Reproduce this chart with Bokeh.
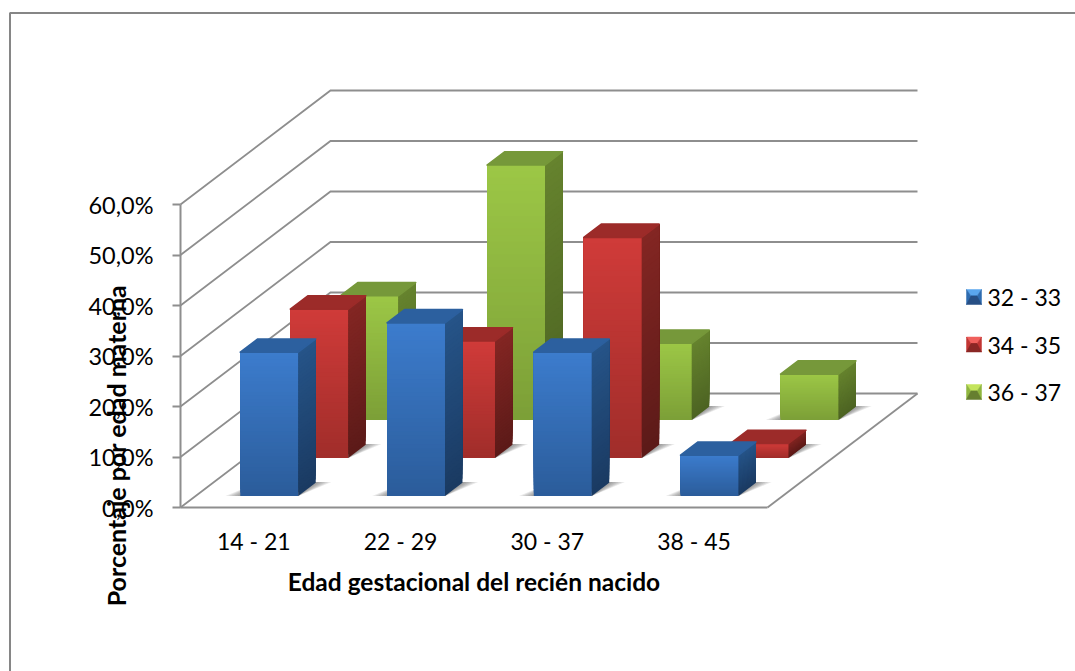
from bokeh.core.properties import value
from bokeh.embed import file_html
from bokeh.models import FixedTicker, Range1d
from bokeh.plotting import figure
from bokeh.resources import INLINE
import math

# Chart values: percentage per maternal age group and gestational age class
categories = ["14 - 21", "22 - 29", "30 - 37", "38 - 45"]
series_names = ["32 - 33", "34 - 35", "36 - 37"]
serie_32_33 = [28.5, 34.3, 28.5, 8.1]
serie_34_35 = [29.5, 23.2, 43.7, 2.9]
serie_36_37 = [24.6, 50.5, 15.2, 9.1]
value_ticks = [0, 10, 20, 30, 40, 50, 60]
value_tick_labels = ["0,0%", "10,0%", "20,0%", "30,0%", "40,0%", "50,0%", "60,0%"]
x_label = "Edad gestacional del recién nacido"
y_label = "Porcentaje por edad materna"

# (front top, front bottom, side top, side bottom, top face, legend light, legend mid, legend dark)
palette = [
    ("#3c7ccd", "#2b5c9a", "#265488", "#1a3a62", "#2c609f", "#5aa6ee", "#2f6cb0", "#274f85"),
    ("#d03b39", "#a02d2a", "#832623", "#5c1a18", "#9c2b29", "#f0605c", "#c23533", "#8a2725"),
    ("#9cc746", "#7c9f37", "#66832e", "#4c6322", "#76983a", "#c4e45c", "#8fb63f", "#667f30"),
]

WIDTH, HEIGHT = 1075, 671
ORIGIN_X, ORIGIN_Y = 180.0, 507.0      # pixel position of the front-left floor corner
CAT_PX = 146.75                        # pixels per category along the floor
PCT_PX = 5.05                          # pixels per percentage point
DEPTH_PX = (150.0, 114.0)              # floor depth vector in pixels
SLOTS = 3
DX = DEPTH_PX[0] / CAT_PX / SLOTS      # one depth slot, in category units
DY = DEPTH_PX[1] / PCT_PX / SLOTS      # one depth slot, in percent units
X_MAX, Y_TOP = 4.0, 60.0
GRID = "#8e8e8e"
STEPS = 40


def project(cat, depth, val):
    return cat + depth * DX, val + depth * DY


def from_px(px, py):
    return (px - ORIGIN_X) / CAT_PX, (ORIGIN_Y - py) / PCT_PX


def mix(a, b, t):
    ca = [int(a[i:i + 2], 16) for i in (1, 3, 5)]
    cb = [int(b[i:i + 2], 16) for i in (1, 3, 5)]
    return "#%02x%02x%02x" % tuple(round(x + (y - x) * t) for x, y in zip(ca, cb))


p = figure(
    width=WIDTH, height=HEIGHT, output_backend="svg", toolbar_location=None,
    x_range=Range1d(*[from_px(v, 0)[0] for v in (0, WIDTH)]),
    y_range=Range1d(from_px(0, HEIGHT)[1], from_px(0, 0)[1]),
    min_border=0, min_border_left=0, min_border_right=0, min_border_top=0, min_border_bottom=0,
    outline_line_color=None, background_fill_color="white", border_fill_color="white",
)
p.grid.visible = False

# Outer chart-area border: only its top and left edges fall inside the page
bx, by = zip(*[from_px(9.5, HEIGHT), from_px(9.5, 12.5), from_px(WIDTH, 12.5)])
p.line(list(bx), list(by), line_color="#868686", line_width=2)

# Side wall, back wall and floor outline
for tick in value_ticks[1:] + [0]:
    xs, ys = zip(project(0, 0, tick), project(0, SLOTS, tick), project(X_MAX, SLOTS, tick))
    p.line(list(xs), list(ys), line_color=GRID, line_width=1.8, line_join="miter")
fx, fy = zip(project(X_MAX, SLOTS, 0), project(X_MAX, 0, 0))
p.line(list(fx), list(fy), line_color=GRID, line_width=1.8)

# Bars, painted from the back row to the front row
BAR_X0, BAR_X1 = 0.305, 0.70
BAR_D0, BAR_D1 = 0.30, 0.65
rows = [serie_32_33, serie_34_35, serie_36_37]
for row in (2, 1, 0):
    front_top, front_bot, side_top, side_bot, top_col = palette[row][:5]
    for i, val in enumerate(rows[row]):
        x0, x1 = i + BAR_X0, i + BAR_X1
        d0, d1 = row + BAR_D0, row + BAR_D1

        # Soft shadow cast on the floor
        for e in (0.10, 0.08, 0.06, 0.04, 0.02):
            pts = [project(x0 - e, d0 + 0.0, 0), project(x1, d0, 0),
                   project(x1 + e, d1 + 0.02, 0), project(x0, d1 + 0.02, 0)]
            sx, sy = zip(*pts)
            p.patch(list(sx), list(sy), fill_color="#404040", fill_alpha=0.12, line_color=None)

        # Front and side faces: each slice runs up to the bar top and is
        # overpainted by the next, which gives a smooth vertical shade
        xs, ys, cols = [], [], []
        for k in range(STEPS):
            v0 = val * k / STEPS
            t = 1 - (k + 0.5) / STEPS
            pts = [project(x0, d0, v0), project(x1, d0, v0), project(x1, d0, val), project(x0, d0, val)]
            xs.append([q[0] for q in pts])
            ys.append([q[1] for q in pts])
            cols.append(mix(front_top, front_bot, t))
            pts = [project(x1, d0, v0), project(x1, d1, v0), project(x1, d1, val), project(x1, d0, val)]
            xs.append([q[0] for q in pts])
            ys.append([q[1] for q in pts])
            cols.append(mix(side_top, side_bot, t))
        p.patches(xs, ys, fill_color=cols, line_color=None)

        # Top face with softly rounded corners
        pts = [project(x0, d0, val), project(x1, d0, val), project(x1, d1, val), project(x0, d1, val)]
        tx, ty = zip(*pts)
        p.patch(list(tx), list(ty), fill_color=top_col, line_color=top_col, line_width=1.5, line_join="round")

# Value axis on the side wall's front edge
p.yaxis.fixed_location = 0
p.yaxis.bounds = (0, Y_TOP)
p.yaxis.ticker = FixedTicker(ticks=value_ticks)
p.yaxis.major_label_overrides = dict(zip(value_ticks, value_tick_labels))
p.yaxis.major_tick_in = 0
p.yaxis.major_tick_out = 8
p.yaxis.minor_tick_line_color = None
p.yaxis.axis_line_color = GRID
p.yaxis.axis_line_width = 2
p.yaxis.major_tick_line_color = GRID
p.yaxis.major_tick_line_width = 1.8
p.yaxis.major_label_text_font = "Lato"
p.yaxis.major_label_text_font_size = "23.5px"
p.yaxis.major_label_text_color = "black"
p.yaxis.major_label_standoff = 19

# Category axis along the floor's front edge
cat_ticks = [i + 0.5 for i in range(len(categories))]
p.xaxis.fixed_location = 0
p.xaxis.bounds = (0, X_MAX)
p.xaxis.ticker = FixedTicker(ticks=cat_ticks)
p.xaxis.major_label_overrides = dict(zip(cat_ticks, categories))
p.xaxis.major_tick_in = 0
p.xaxis.major_tick_out = 0
p.xaxis.minor_tick_line_color = None
p.xaxis.axis_line_color = GRID
p.xaxis.axis_line_width = 2
p.xaxis.major_label_text_font = "Lato"
p.xaxis.major_label_text_font_size = "23px"
p.xaxis.major_label_text_color = "black"
p.xaxis.major_label_standoff = 19
p.xaxis.axis_label = x_label
p.xaxis.axis_label_text_font = "Lato"
p.xaxis.axis_label_text_font_size = "24.5px"
p.xaxis.axis_label_text_font_style = "bold"
p.xaxis.axis_label_text_color = "black"
p.xaxis.axis_label_standoff = 9

# Rotated title of the value axis
lx, ly = from_px(115, 445)
p.text([lx], [ly], text=[y_label], angle=math.pi / 2, text_align="center", text_baseline="middle",
       text_font=value("Lato"), text_font_style="bold", text_font_size="25px", text_color="black")

# Legend: bevelled swatches beside the series names
for n, name in enumerate(series_names):
    cy = 296.5 + n * 47.5
    light, mid, dark = palette[n][5:8]
    left, right, top, bottom, in_l, in_r, in_y = 966, 981, cy - 7.5, cy + 7.5, 970.5, 976.5, cy - 1
    faces = [
        ([(left, top), (right, top), (in_r, in_y), (in_l, in_y)], light),
        ([(left, top), (in_l, in_y), (in_r, in_y), (left, bottom)], mid),
        ([(right, top), (in_r, in_y), (in_l, in_y), (right, bottom)], mid),
        ([(left, bottom), (right, bottom), (in_r, in_y), (in_l, in_y)], dark),
    ]
    for poly, col in faces:
        qx, qy = zip(*[from_px(a, b) for a, b in poly])
        p.patch(list(qx), list(qy), fill_color=col, line_color=col, line_width=0.5)
    tx, ty = from_px(987, cy)
    p.text([tx], [ty], text=[name], text_align="left", text_baseline="middle",
           text_font=value("Lato"), text_font_size="23px", text_color="black")

open("out.html", "w").write(file_html(p, INLINE))
